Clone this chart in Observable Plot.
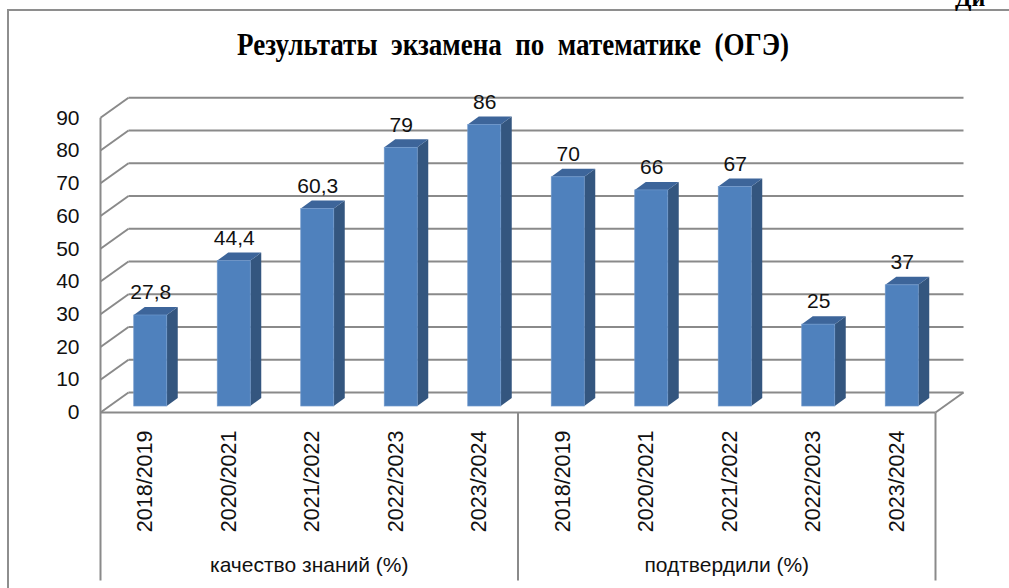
<!DOCTYPE html>
<html><head><meta charset="utf-8">
<script src="https://cdn.jsdelivr.net/npm/d3@7"></script>
<script src="https://cdn.jsdelivr.net/npm/@observablehq/plot@0.6"></script>
<style>
body{margin:0;background:#fff;overflow:hidden}
#wrap{position:relative;width:1009px;height:588px;overflow:hidden;background:#fff}
#frame{position:absolute;left:7px;top:9px;width:1100px;height:700px;border:2px solid #8e8e8e;box-sizing:border-box}
#title{position:absolute;left:0;top:27px;white-space:pre;font:bold 31px "Liberation Serif","Times New Roman",serif;color:#000;transform-origin:0 0;line-height:1.15}
#corner{position:absolute;left:955px;top:-15px;font:bold 24px "Liberation Serif",serif;color:#000}
#chart{position:absolute;left:0;top:0}
</style></head>
<body><div id="wrap"><div id="frame"></div><div id="corner">Ди</div><span id="title">Результаты  экзамена  по  математике  (ОГЭ)</span><div id="chart"></div></div>
<script>
const groups = ["качество знаний (%)", "подтвердили (%)"];
const years = ["2018/2019", "2020/2021", "2021/2022", "2022/2023", "2023/2024"];
const quality = [27.8, 44.4, 60.3, 79, 86];
const confirmed = [70, 66, 67, 25, 37];
const yTicks = [0, 10, 20, 30, 40, 50, 60, 70, 80, 90];

// layout
const W = 1009, H = 588, mL = 114, mR = 60, mT = 107.3, mB = 186;
const nSlots = groups.length * years.length, yMax = 90;
const pxX = (W - mL - mR) / nSlots, pxY = (H - mT - mB) / yMax;
const X = p => p / pxX, Y = p => p / pxY;
const bx = X(14), by = Y(10);         // half depth of the box
const hw = X(16.5), bdx = X(5.5), bdy = Y(4); // bar half width / half depth
const below = Y(168);

const bars = [];
groups.forEach((g, gi) => {
  const vals = gi === 0 ? quality : confirmed;
  years.forEach((yr, i) => bars.push({group: g, year: yr, value: vals[i], slot: gi * years.length + i}));
});
const fmt = v => String(v).replace(".", ",");

const grid = yTicks.map(v => ({x1: bx, y1: v + by, x2: nSlots + bx, y2: v + by}));
const diag = yTicks.map(v => ({x1: -bx, y1: v - by, x2: bx, y2: v + by}));
const frameLines = [
  {x1: -bx, y1: yMax - by, x2: -bx, y2: -by - below},
  {x1: -bx, y1: -by, x2: nSlots - bx, y2: -by},
  {x1: nSlots - bx, y1: -by, x2: nSlots + bx, y2: by},
  {x1: nSlots - bx, y1: -by, x2: nSlots - bx, y2: -by - below},
  {x1: years.length - bx, y1: -by, x2: years.length - bx, y2: -by - below}
];
const sidePts = bars.flatMap(d => {
  const c = d.slot + 0.5;
  return [{slot: d.slot, x: c + hw - bdx, y1: -bdy, y2: d.value - bdy},
          {slot: d.slot, x: c + hw + bdx, y1: bdy, y2: d.value + bdy}];
});
const topPts = bars.flatMap(d => {
  const c = d.slot + 0.5;
  return [{slot: d.slot, y: d.value - bdy, x1: c - hw - bdx, x2: c + hw - bdx},
          {slot: d.slot, y: d.value + bdy, x1: c - hw + bdx, x2: c + hw + bdx}];
});

const gridColor = "#8a8a8a";
const chart = Plot.plot({
  width: W, height: H,
  marginLeft: mL, marginRight: mR, marginTop: mT, marginBottom: mB,
  x: {axis: null, domain: [0, nSlots]},
  y: {axis: null, domain: [0, yMax]},
  style: {fontFamily: "'Liberation Sans', Arial, sans-serif", background: "transparent", overflow: "visible"},
  marks: [
    Plot.link(grid, {x1: "x1", y1: "y1", x2: "x2", y2: "y2", stroke: gridColor, strokeWidth: 2}),
    Plot.link(diag, {x1: "x1", y1: "y1", x2: "x2", y2: "y2", stroke: gridColor, strokeWidth: 2}),
    Plot.link(frameLines, {x1: "x1", y1: "y1", x2: "x2", y2: "y2", stroke: gridColor, strokeWidth: 2}),
    Plot.areaY(sidePts, {x: "x", y1: "y1", y2: "y2", z: "slot", fill: "#34567f"}),
    Plot.areaX(topPts, {y: "y", x1: "x1", x2: "x2", z: "slot", fill: "#3d659a"}),
    Plot.rect(bars, {
      x1: d => d.slot + 0.5 - hw - bdx, x2: d => d.slot + 0.5 + hw - bdx,
      y1: () => -bdy, y2: d => d.value - bdy,
      fill: "#4f81bd", stroke: "#6f98cc", strokeWidth: 0.7
    }),
    Plot.text(bars, {x: d => d.slot + 0.5 - bdx, y: d => d.value + bdy, text: d => fmt(d.value),
      dy: -15, fontSize: 21, fill: "#111"}),
    Plot.text(yTicks, {x: () => -bx, y: v => v - by, text: v => String(v), textAnchor: "end",
      dx: -21, fontSize: 21, fill: "#111"}),
    Plot.text(bars, {x: d => d.slot + 0.5 - bx, y: () => -by, text: "year", rotate: -90, textAnchor: "end",
      dx: 3, dy: 18, fontSize: 21.5, fontFamily: "'Liberation Sans Narrow', 'Liberation Sans', sans-serif", fill: "#111"}),
    Plot.text(groups, {x: (d, i) => i * years.length + years.length / 2 - bx, y: () => -by, text: d => d,
      dy: 153, fontSize: 21, fill: "#111"})
  ]
});
document.getElementById("chart").appendChild(chart);

const t = document.getElementById("title");
const tw = t.getBoundingClientRect().width;
const target = 552, cx = 513;
t.style.left = (cx - target / 2) + "px";
t.style.transform = `scaleX(${target / tw})`;
</script>
</body></html>
